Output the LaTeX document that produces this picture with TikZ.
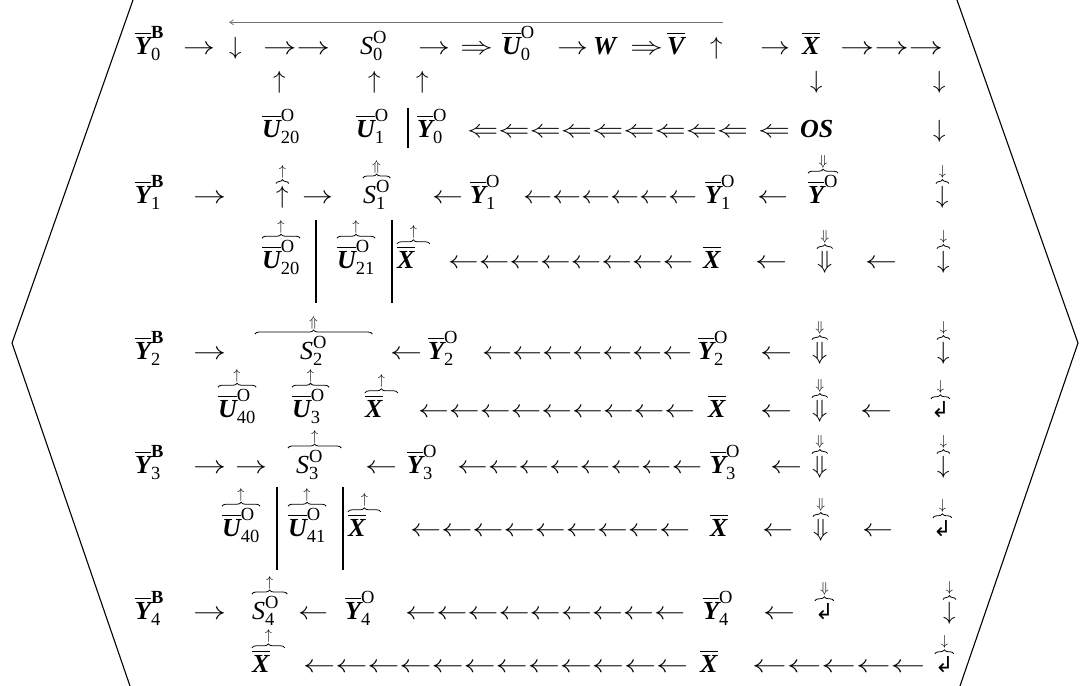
\documentclass[tikz,border=0pt]{standalone}
\usepackage{amsmath}
\usepackage{graphicx}
\usepackage{fontspec}
\setmainfont{Liberation Serif}
\newfontfamily\djv{DejaVu Sans}
\usetikzlibrary{arrows.meta,decorations.pathreplacing,calc}
\DeclareMathSizes{26}{26}{18.5}{14}

\newcommand\bi[1]{\hbox{\bfseries\itshape #1}}
\newcommand\ob[1]{\overline{\bi{#1}}}
\newcommand\ls{\hbox{\itshape S}}
\newcommand\arun[3]{\resizebox{#3pt}{\height}{\foreach\kk in {1,...,#2}{$#1$}}}
\newcommand\hook{\hbox{\fontsize{22}{22}\selectfont\djv ↲}}
% braced term: name, x, baseline, content, mark above the brace
\newcommand\bx[5]{%
  \node[t] (#1) at (#2,#3) {#4};
  \draw[br] (#1.north west) -- (#1.north east);
  \node[sm] (#1t) at ([yshift=7pt]#1.north) {#5};
}

\begin{document}
\begin{tikzpicture}[x=1pt,y=-1pt,
  t/.style={anchor=base west, inner sep=0pt, font=\fontsize{26}{28}\selectfont},
  sm/.style={anchor=south, inner sep=0pt, font=\fontsize{15}{15}\selectfont},
  br/.style={decorate, decoration={brace, amplitude=4pt, raise=2pt}, line width=0.8pt},
  bar/.style={line width=1.3pt},
  hexln/.style={line width=1.1pt},
  topln/.style={draw=black!55, line width=0.7pt, -{Straight Barb[length=4pt,width=5pt]}}
]
\useasboundingbox (0,0) rectangle (1088,686);

% outline
\draw[hexln] (133,0) -- (12,343) -- (130,686);
\draw[hexln] (957,0) -- (1078,343) -- (960,686);

% row 0
\node[t] (y0b) at (135,54) {$\ob{Y}^{\textbf{B}}_{\text{0}}$};
\node[t] (a01) at (183,54) {\arun{\rightarrow}{1}{32}};
\node[t] (dn0) at (229,54) {$\downarrow$};
\node[t] (a02) at (263,54) {\arun{\rightarrow}{2}{67}};
\node[t] (s0)  at (360,54) {$\ls^{\text{O}}_{\text{0}}$};
\node[t] (a03) at (418,54) {\arun{\rightarrow}{1}{32}};
\node[t] (a04) at (460,54) {\arun{\Rightarrow}{1}{33}};
\node[t] (u0)  at (502,54) {$\ob{U}^{\text{O}}_{\text{0}}$};
\node[t] (a05) at (557,54) {\arun{\rightarrow}{1}{31}};
\node[t] (w)   at (593,54) {\textbf{\textit{W}}};
\node[t] (a06) at (630,54) {\arun{\Rightarrow}{1}{33}};
\node[t] (v)   at (667,54) {$\ob{V}$};
\node[t] (up0) at (710,54) {$\uparrow$};
\node[t] (a07) at (760,54) {\arun{\rightarrow}{1}{30}};
\node[t] (x0)  at (802,54) {$\ob{X}$};
\node[t] (a08) at (840,54) {\arun{\rightarrow}{3}{103}};
\draw[topln] ($(up0.east |- u0.north)+(0,-4)$) -- ($(dn0.west |- u0.north)+(0,-4)$);

\node[t] (b1) at (273,88) {$\uparrow$};
\node[t] (b2) at (368,88) {$\uparrow$};
\node[t] (b3) at (416,88) {$\uparrow$};
\node[t] (b4) at (810,88) {$\downarrow$};
\node[t] (b5) at (933,88) {$\downarrow$};

\node[t] (u20) at (262,137) {$\ob{U}^{\text{O}}_{\text{20}}$};
\node[t] (u1)  at (356,137) {$\ob{U}^{\text{O}}_{\text{1}}$};
\node[t] (y0o) at (417,137) {$\ob{Y}^{\text{O}}_{\text{0}}$};
\node[t] (a11) at (467,137) {\arun{\Leftarrow}{9}{281}};
\node[t] (a12) at (758,137) {\arun{\Leftarrow}{1}{32}};
\node[t] (os)  at (800,137) {\textbf{\textit{OS}}};
\node[t] (c5)  at (933,137) {$\downarrow$};
\draw[bar] (408,108) -- (408,148);

% row 1
\node[t] (y1b)  at (135,203) {$\ob{Y}^{\textbf{B}}_{\text{1}}$};
\node[t] (a21)  at (193,203) {\arun{\rightarrow}{1}{33}};
\bx{d1}{276}{203}{$\uparrow$}{$\uparrow$}
\node[t] (a22)  at (302,203) {\arun{\rightarrow}{1}{31}};
\bx{s1}{363}{203}{$\ls^{\text{O}}_{\text{1}}$}{$\Uparrow$}
\node[t] (a23)  at (432,203) {\arun{\leftarrow}{1}{31}};
\node[t] (y1o)  at (470,203) {$\ob{Y}^{\text{O}}_{\text{1}}$};
\node[t] (a24)  at (523,203) {\arun{\leftarrow}{6}{174}};
\node[t] (y1oa) at (705,203) {$\ob{Y}^{\text{O}}_{\text{1}}$};
\node[t] (a25)  at (757,203) {\arun{\leftarrow}{1}{31}};
\bx{yo}{808}{203}{$\ob{Y}^{\text{O}}$}{$\Downarrow$}
\bx{d2}{936}{203}{$\downarrow$}{$\downarrow$}

\bx{u20b}{262}{268}{$\ob{U}^{\text{O}}_{\text{20}}$}{$\uparrow$}
\bx{u21}{337}{268}{$\ob{U}^{\text{O}}_{\text{21}}$}{$\uparrow$}
\bx{x1}{397}{268}{$\ob{X}\hspace{15pt}$}{$\uparrow$}
\node[t] (a31)  at (448,268) {\arun{\leftarrow}{8}{245}};
\node[t] (x1a)  at (703,268) {$\ob{X}$};
\node[t] (a32)  at (755,268) {\arun{\leftarrow}{1}{32}};
\bx{e1}{817}{268}{$\Downarrow$}{$\Downarrow$}
\node[t] (a33)  at (865,268) {\arun{\leftarrow}{1}{32}};
\bx{e2}{937}{268}{$\downarrow$}{$\downarrow$}
\draw[bar] (316,220) -- (316,303);
\draw[bar] (392,220) -- (392,303);

% row 2
\node[t] (y2b)  at (135,359) {$\ob{Y}^{\textbf{B}}_{\text{2}}$};
\node[t] (a41)  at (193,359) {\arun{\rightarrow}{1}{33}};
\bx{s2}{255}{359}{$\hspace{45pt}\ls^{\text{O}}_{\text{2}}\hspace{45pt}$}{$\Uparrow$}
\node[t] (a42)  at (390,359) {\arun{\leftarrow}{1}{32}};
\node[t] (y2o)  at (428,359) {$\ob{Y}^{\text{O}}_{\text{2}}$};
\node[t] (a43)  at (482,359) {\arun{\leftarrow}{7}{210}};
\node[t] (y2oa) at (698,359) {$\ob{Y}^{\text{O}}_{\text{2}}$};
\node[t] (a44)  at (760,359) {\arun{\leftarrow}{1}{32}};
\bx{f1}{812}{359}{$\Downarrow$}{$\Downarrow$}
\bx{f2}{937}{359}{$\downarrow$}{$\downarrow$}

\bx{u40}{218}{417}{$\ob{U}^{\text{O}}_{\text{40}}$}{$\uparrow$}
\bx{u3}{292}{417}{$\ob{U}^{\text{O}}_{\text{3}}\hspace{4pt}$}{$\uparrow$}
\bx{x2}{365}{417}{$\ob{X}\hspace{15pt}$}{$\uparrow$}
\node[t] (a51)  at (418,417) {\arun{\leftarrow}{9}{277}};
\node[t] (x2a)  at (708,417) {$\ob{X}$};
\node[t] (a52)  at (760,417) {\arun{\leftarrow}{1}{32}};
\bx{g1}{812}{417}{$\Downarrow$}{$\Downarrow$}
\node[t] (a53)  at (860,417) {\arun{\leftarrow}{1}{32}};
\bx{g2}{931}{417}{\hook}{$\downarrow$}

% row 3
\node[t] (y3b)  at (135,473) {$\ob{Y}^{\textbf{B}}_{\text{3}}$};
\node[t] (a61)  at (193,473) {\arun{\rightarrow}{1}{33}};
\node[t] (a62)  at (235,473) {\arun{\rightarrow}{1}{32}};
\bx{s3}{288}{473}{$\hspace{8pt}\ls^{\text{O}}_{\text{3}}\hspace{18pt}$}{$\uparrow$}
\node[t] (a63)  at (365,473) {\arun{\leftarrow}{1}{32}};
\node[t] (y3o)  at (407,473) {$\ob{Y}^{\text{O}}_{\text{3}}$};
\node[t] (a64)  at (457,473) {\arun{\leftarrow}{8}{245}};
\node[t] (y3oa) at (710,473) {$\ob{Y}^{\text{O}}_{\text{3}}$};
\node[t] (a65)  at (770,473) {\arun{\leftarrow}{1}{32}};
\bx{h1}{812}{473}{$\Downarrow$}{$\Downarrow$}
\bx{h2}{937}{473}{$\downarrow$}{$\downarrow$}

\bx{u40b}{222}{536}{$\ob{U}^{\text{O}}_{\text{40}}$}{$\uparrow$}
\bx{u41}{288}{536}{$\ob{U}^{\text{O}}_{\text{41}}$}{$\uparrow$}
\bx{x3}{348}{536}{$\ob{X}\hspace{15pt}$}{$\uparrow$}
\node[t] (a71)  at (410,536) {\arun{\leftarrow}{9}{280}};
\node[t] (x3a)  at (710,536) {$\ob{X}$};
\node[t] (a72)  at (762,536) {\arun{\leftarrow}{1}{31}};
\bx{i1}{813}{536}{$\Downarrow$}{$\Downarrow$}
\node[t] (a73)  at (862,536) {\arun{\leftarrow}{1}{31}};
\bx{i2}{933}{536}{\hook}{$\downarrow$}
\draw[bar] (277,487) -- (277,570);
\draw[bar] (343,487) -- (343,570);

% row 4
\node[t] (y4b)  at (135,619) {$\ob{Y}^{\textbf{B}}_{\text{4}}$};
\node[t] (a81)  at (193,619) {\arun{\rightarrow}{1}{33}};
\bx{s4}{252}{619}{$\ls^{\text{O}}_{\text{4}}\hspace{8pt}$}{$\uparrow$}
\node[t] (a82)  at (298,619) {\arun{\leftarrow}{1}{30}};
\node[t] (y4o)  at (345,619) {$\ob{Y}^{\text{O}}_{\text{4}}$};
\node[t] (a83)  at (405,619) {\arun{\leftarrow}{9}{280}};
\node[t] (y4oa) at (703,619) {$\ob{Y}^{\text{O}}_{\text{4}}$};
\node[t] (a84)  at (763,619) {\arun{\leftarrow}{1}{32}};
\bx{j1}{815}{619}{\hook}{$\Downarrow$}
\bx{j2}{943}{619}{$\downarrow$}{$\downarrow$}

\bx{x4}{252}{672}{$\ob{X}\hspace{15pt}$}{$\uparrow$}
\node[t] (a91)  at (303,672) {\arun{\leftarrow}{12}{385}};
\node[t] (x4a)  at (700,672) {$\ob{X}$};
\node[t] (a92)  at (752,672) {\arun{\leftarrow}{5}{173}};
\bx{k1}{935}{672}{\hook}{$\downarrow$}
\end{tikzpicture}
\end{document}
